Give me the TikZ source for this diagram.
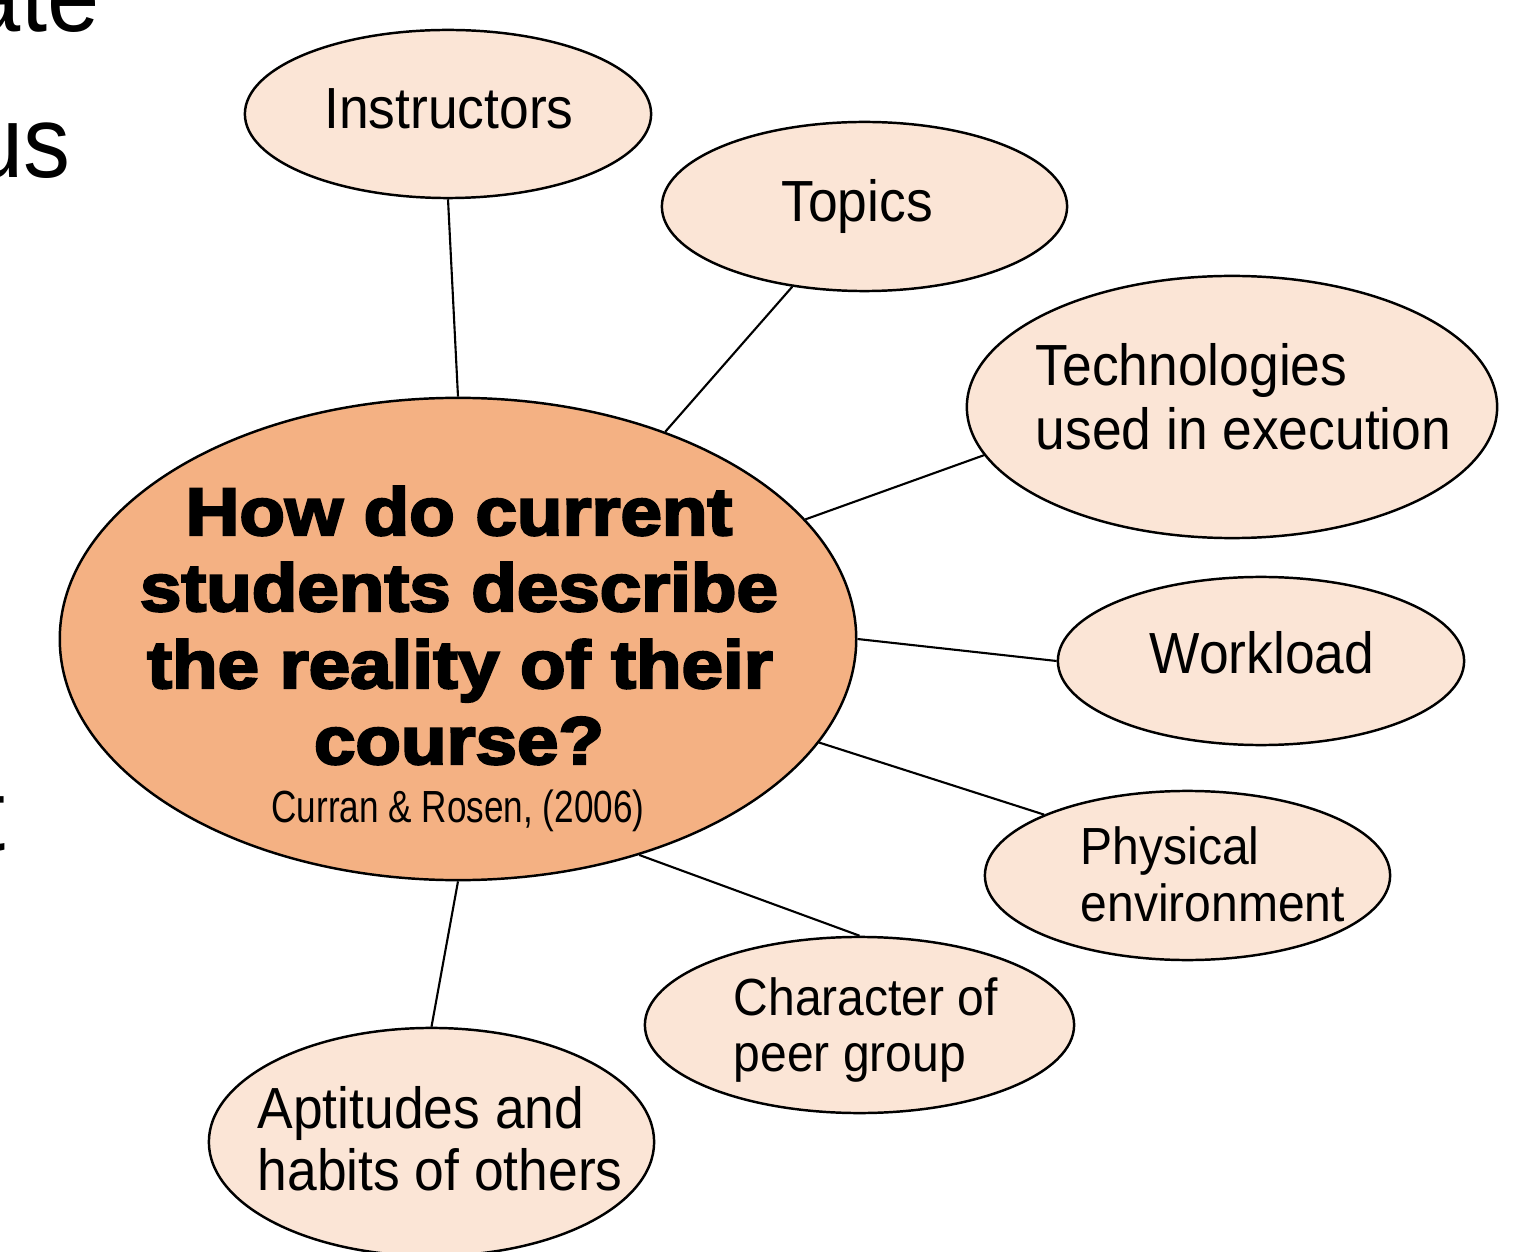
\documentclass[tikz,border=0pt]{standalone}
\usepackage{fontspec}
\setmainfont{Liberation Sans}
\newfontfamily\lblfont{Liberation Sans}[FakeStretch=0.92]
\newfontfamily\qfont{Liberation Sans Bold}[FakeStretch=1.11,FakeBold=3.5]
\newfontfamily\citefont{Liberation Sans}[FakeStretch=0.78]
\usetikzlibrary{shapes.geometric}
\definecolor{hubfill}{HTML}{F4B183}
\definecolor{leaffill}{HTML}{FBE5D6}

\begin{document}
\begin{tikzpicture}[x=0.01cm,y=-0.01cm,
  leaf/.style={ellipse, draw=black, line width=0.7pt, fill=leaffill, inner sep=0pt},
  hub/.style={ellipse, draw=black, line width=0.7pt, fill=hubfill, inner sep=0pt},
  link/.style={draw=black, line width=0.6pt},
  big/.style={inner sep=0pt, font=\lblfont\fontsize{16.5}{18}\selectfont},
  small/.style={inner sep=0pt, font=\lblfont\fontsize{14.85}{16}\selectfont},
  question/.style={inner sep=0pt, font=\qfont\fontsize{19.1}{22}\selectfont},
  source/.style={inner sep=0pt, font=\citefont\fontsize{12.8}{14}\selectfont},
  slide/.style={inner sep=0pt, font=\lblfont\fontsize{29}{32}\selectfont},
]
\useasboundingbox (0,0) rectangle (1533,1252);
\clip (0,0) rectangle (1533,1252);

% slide text running behind the diagram
\node[slide, anchor=base east] (s1) at (100,32) {ate};
\node[slide, anchor=base east] (s2) at (71,178) {us};
\node[slide, anchor=base east] (s3) at (6,850) {t};

% ellipses
\node[hub,  minimum width=7.96cm, minimum height=4.82cm] (hub) at (458,639) {};
\node[leaf, minimum width=4.06cm, minimum height=1.68cm] (ins) at (448,114) {};
\node[leaf, minimum width=4.05cm, minimum height=1.69cm] (top) at (864.5,206.5) {};
\node[leaf, minimum width=5.30cm, minimum height=2.62cm] (tec) at (1232,407) {};
\node[leaf, minimum width=4.06cm, minimum height=1.68cm] (wl)  at (1261,661) {};
\node[leaf, minimum width=4.05cm, minimum height=1.69cm] (phy) at (1187.5,875.5) {};
\node[leaf, minimum width=4.29cm, minimum height=1.76cm] (chr) at (859.5,1025) {};
\node[leaf, minimum width=4.45cm, minimum height=2.28cm] (apt) at (431.5,1142) {};

% connectors
\draw[link] (ins.south) -- (hub.north);
\draw[link] (top.-132)  -- (hub.45);
\draw[link] (tec.-169)  -- (hub.19);
\draw[link] (wl.west)   -- (hub.east);
\draw[link] (phy.157)   -- (hub.-16);
\draw[link] (chr.north) -- (hub.-50);
\draw[link] (apt.north) -- (hub.south);

% central question
\node[question, anchor=base] (q1) at (459,535) {How do current};
\node[question, anchor=base] (q2) at (459,611) {students describe};
\node[question, anchor=base] (q3) at (460,688) {the reality of their};
\node[question, anchor=base] (q4) at (459,764) {course?};
\node[source, anchor=base] (src) at (458,822) {Curran \& Rosen, (2006)};

% leaf labels
\node[big, anchor=base] (ins-t) at (449,129) {Instructors};
\node[big, anchor=base] (top-t) at (857,222) {Topics};
\node[big, anchor=base west] (tec-t1) at (1035,386) {Technologies};
\node[big, anchor=base west] (tec-t2) at (1035,450) {used in execution};
\node[big, anchor=base] (wl-t) at (1262,673) {Workload};
\node[small, anchor=base west] (phy-t1) at (1080,864) {Physical};
\node[small, anchor=base west] (phy-t2) at (1080,921) {environment};
\node[small, anchor=base west] (chr-t1) at (733,1015) {Character of};
\node[small, anchor=base west] (chr-t2) at (733,1071) {peer group};
\node[big, anchor=base west] (apt-t1) at (257,1128) {Aptitudes and};
\node[big, anchor=base west] (apt-t2) at (257,1190) {habits of others};
\end{tikzpicture}
\end{document}
